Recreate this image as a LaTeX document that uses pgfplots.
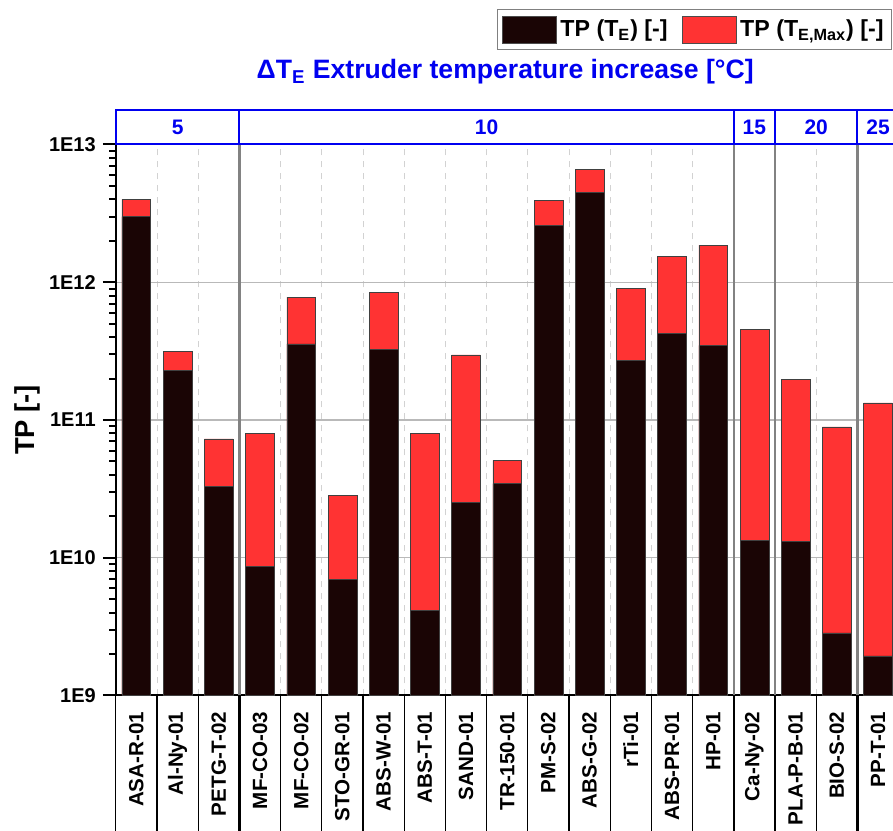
\documentclass[border=0pt]{standalone}
\usepackage{fontspec}
\setmainfont{Liberation Sans}
\usepackage{pgfplots}
\pgfplotsset{compat=1.18}
\definecolor{barred}{RGB}{255,51,51}
\definecolor{barblk}{RGB}{26,5,5}
\definecolor{stripblue}{RGB}{0,0,240}
\definecolor{sepgray}{RGB}{130,130,130}
\begin{document}
\begin{tikzpicture}
\begin{axis}[
  name=ax, scale only axis, width=391.4pt, height=275.5pt,
  clip=false,
  ymode=log, ymin=1e9, ymax=1e13, log origin=infty,
  xmin=-0.5, xmax=18.5,
  xtick={0,...,18},
  xticklabels={ASA-R-01,Al-Ny-01,PETG-T-02,MF-CO-03,MF-CO-02,STO-GR-01,ABS-W-01,ABS-T-01,SAND-01,TR-150-01,PM-S-02,ABS-G-02,rTi-01,ABS-PR-01,HP-01,Ca-Ny-02,PLA-P-B-01,BIO-S-02,PP-T-01},
  xtick style={draw=none},
  xticklabel style={rotate=90, anchor=east, inner sep=0pt, font=\fontsize{10.3}{12}\selectfont\bfseries},
  xticklabel shift=1.5pt,
  minor xtick={-0.5,0.5,1.5,2.5,3.5,4.5,5.5,6.5,7.5,8.5,9.5,10.5,11.5,12.5,13.5,14.5,15.5,16.5,17.5,18.5},
  xminorgrids, minor x grid style={dashed, gray!35, line width=0.4pt},
  extra x ticks={2.5,14.5,15.5,17.5}, extra x tick labels={},
  extra x tick style={grid=major, major grid style={sepgray, line width=1.1pt}},
  ytick={1e9,1e10,1e11,1e12,1e13},
  yticklabels={1E9,1E10,1E11,1E12,1E13},
  yticklabel style={font=\fontsize{10}{12}\selectfont\bfseries},
  /pgf/number format/assume math mode=true,
  tick pos=left, tick align=outside,
  major tick length=6.5pt, minor tick length=3.3pt,
  ytick style={black, line width=1pt},
  ymajorgrids, major grid style={gray!55, line width=0.6pt},
  axis line style={black, line width=1pt},
  legend image code/.code={\draw[#1] (0pt,-6.7pt) rectangle (27pt,6.7pt);},
  legend columns=2,
  legend style={at={(1,1)}, anchor=north east, xshift=-3.3pt, yshift=67.5pt,
    draw=gray, line width=0.5pt, inner xsep=2pt, inner ysep=3pt,
    font=\fontsize{11.6}{13}\selectfont\bfseries,
    /tikz/every even column/.append style={column sep=5pt}},
]
\addlegendimage{fill=barblk, draw=gray!60!black, line width=0.3pt}
\addlegendentry{TP (T\textsubscript{E}) [-]}
\addlegendimage{fill=barred, draw=gray!60!black, line width=0.3pt}
\addlegendentry{TP (T\textsubscript{E,Max}) [-]}

\addplot[ybar, bar width=14.4pt, bar shift=0pt, fill=barred, draw=gray!50!black, line width=0.3pt, forget plot] coordinates {
(0,4.0e12) (1,3.13e11) (2,7.3e10) (3,8.0e10) (4,7.8e11) (5,2.84e10) (6,8.4e11) (7,8.0e10) (8,2.97e11) (9,5.1e10)
(10,3.94e12) (11,6.6e12) (12,9.0e11) (13,1.53e12) (14,1.86e12) (15,4.55e11) (16,1.98e11) (17,8.9e10) (18,1.33e11)};
\addplot[ybar, bar width=14.4pt, bar shift=0pt, fill=barblk, draw=gray!50!black, line width=0.3pt, forget plot] coordinates {
(0,3.0e12) (1,2.3e11) (2,3.3e10) (3,8.6e9) (4,3.57e11) (5,7.0e9) (6,3.26e11) (7,4.14e9) (8,2.52e10) (9,3.45e10)
(10,2.6e12) (11,4.5e12) (12,2.71e11) (13,4.28e11) (14,3.48e11) (15,1.33e10) (16,1.32e10) (17,2.85e9) (18,1.94e9)};

% label box separators below the axis
\pgfplotsinvokeforeach{-0.5,0.5,1.5,3.5,4.5,5.5,6.5,7.5,8.5,9.5,10.5,11.5,12.5,13.5,16.5,18.5}{
  \draw[black, line width=0.65pt] (axis cs:#1,1e9) -- ++(0pt,-80pt);
}
\pgfplotsinvokeforeach{2.5,14.5,15.5,17.5}{
  \draw[black, line width=1.1pt] (axis cs:#1,1e9) -- ++(0pt,-80pt);
}
% top strip
\draw[stripblue, line width=1pt] (axis cs:-0.5,1e13) rectangle ([yshift=17pt]axis cs:18.5,1e13);
\pgfplotsinvokeforeach{2.5,14.5,15.5,17.5}{
  \draw[stripblue, line width=1pt] (axis cs:#1,1e13) -- ([yshift=17pt]axis cs:#1,1e13);
}
\node[stripblue, font=\fontsize{10.5}{12}\selectfont\bfseries] at ([yshift=8.75pt]axis cs:1,1e13) {5};
\node[stripblue, font=\fontsize{10.5}{12}\selectfont\bfseries] at ([yshift=8.75pt]axis cs:8.5,1e13) {10};
\node[stripblue, font=\fontsize{10.5}{12}\selectfont\bfseries] at ([yshift=8.75pt]axis cs:15,1e13) {15};
\node[stripblue, font=\fontsize{10.5}{12}\selectfont\bfseries] at ([yshift=8.75pt]axis cs:16.5,1e13) {20};
\node[stripblue, font=\fontsize{10.5}{12}\selectfont\bfseries] at ([yshift=8.75pt]axis cs:18,1e13) {25};
\end{axis}
\node[rotate=90, font=\fontsize{13.7}{15}\selectfont\bfseries] at ([xshift=-44pt]ax.west) {TP [-]};
\node[stripblue, font=\fontsize{13.3}{15}\selectfont\bfseries] at ([xshift=-1pt,yshift=36.25pt]ax.north) {ΔT\textsubscript{E} Extruder temperature increase [°C]};
\pgfresetboundingbox
\path[use as bounding box] ([xshift=-57.9pt,yshift=-67.25pt]ax.south west) rectangle ([xshift=-2.8pt,yshift=72.25pt]ax.north east);
\end{tikzpicture}
\end{document}
